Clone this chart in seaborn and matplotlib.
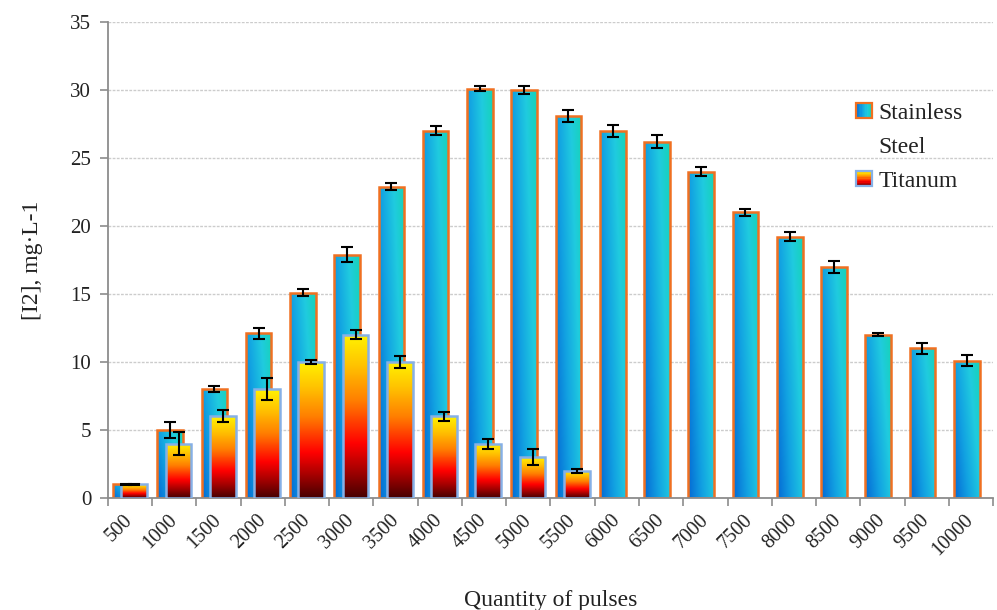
import numpy as np
import pandas as pd
import matplotlib
matplotlib.use("Agg")
import matplotlib.pyplot as plt
import seaborn as sns
from matplotlib.colors import LinearSegmentedColormap
from matplotlib.legend_handler import HandlerBase
from matplotlib.patches import Rectangle
from matplotlib.ticker import FixedLocator

# ---- data ----
pulses = ["500", "1000", "1500", "2000", "2500", "3000", "3500", "4000", "4500", "5000",
          "5500", "6000", "6500", "7000", "7500", "8000", "8500", "9000", "9500", "10000"]
steel = [1.0, 5.0, 8.0, 12.1, 15.1, 17.9, 22.9, 27.0, 30.1, 30.0,
         28.1, 27.0, 26.2, 24.0, 21.0, 19.2, 17.0, 12.0, 11.0, 10.1]
steel_err = [0.05, 0.61, 0.2, 0.43, 0.26, 0.57, 0.25, 0.34, 0.16, 0.32,
             0.43, 0.45, 0.48, 0.34, 0.25, 0.34, 0.45, 0.12, 0.38, 0.42]
titanium = [1.0, 4.0, 6.0, 8.0, 10.0, 12.0, 10.0, 6.0, 4.0, 3.0, 2.0] + [np.nan] * 9
titanium_err = [0.05, 0.85, 0.44, 0.79, 0.17, 0.34, 0.44, 0.33, 0.37, 0.6, 0.15] + [np.nan] * 9
yticks = [0, 5, 10, 15, 20, 25, 30, 35]

sns.set_theme(style="white")
plt.rcParams["font.family"] = ["Liberation Serif", "DejaVu Serif"]

fig, ax = plt.subplots(figsize=(9.97, 6.10), dpi=100)
fig.subplots_adjust(left=0.1083, right=0.996, top=0.964, bottom=0.1836)

steel_cmap = LinearSegmentedColormap.from_list(
    "steel", [(0, "#0670d6"), (0.35, "#12a2e2"), (0.7, "#20cbdf"), (1, "#16d3b8")])
ti_cmap = LinearSegmentedColormap.from_list(
    "ti", [(0, "#4a0000"), (0.18, "#b00000"), (0.33, "#ff0000"), (0.6, "#ff8000"),
           (0.82, "#ffc400"), (1, "#fff200")])

df_s = pd.DataFrame({"pulses": pulses, "value": steel})
sns.barplot(data=df_s, x="pulses", y="value", order=pulses, width=0.58,
            color="#19b5e0", edgecolor="#f07021", linewidth=1.8,
            errorbar=None, ax=ax)
steel_patches = list(ax.patches)

df_t = pd.DataFrame({"pulses": pulses, "value": titanium}).dropna()
sns.barplot(data=df_t, x="pulses", y="value", order=pulses, width=0.58,
            color="#ff8000", edgecolor="#86b0e6", linewidth=1.8,
            errorbar=None, ax=ax)
ti_patches = list(ax.patches)[len(steel_patches):]

shift = 0.095
for p in steel_patches:
    p.set_x(p.get_x() - shift)
for p in ti_patches:
    p.set_x(p.get_x() + shift)

# gradient fills
ny, nx = 64, 64
xf = np.linspace(0, 1, nx)[None, :]
yf = np.linspace(1, 0, ny)[:, None]  # row 0 is top
steel_grad = np.clip(0.7 * xf + 0.35 * yf - 0.05, 0, 1)
ti_grad = np.repeat(yf, nx, axis=1)

def fill(patches, grad, cmap, z):
    for p in patches:
        x, y, w, h = p.get_x(), p.get_y(), p.get_width(), p.get_height()
        if h <= 0:
            continue
        im = ax.imshow(grad, extent=[x, x + w, y, y + h], aspect="auto",
                       cmap=cmap, vmin=0, vmax=1, zorder=z, interpolation="bilinear")
        im.set_clip_path(p)
        p.set_facecolor("none")
        p.set_zorder(z + 0.1)

fill(steel_patches, steel_grad, steel_cmap, 2)
fill(ti_patches, ti_grad, ti_cmap, 3)

# error bars
sx = [p.get_x() + p.get_width() / 2 for p in steel_patches]
ax.errorbar(sx, steel, yerr=steel_err, fmt="none", ecolor="black",
            elinewidth=1.5, capsize=4, capthick=1.5, zorder=5)
ti_vals = [v for v in titanium if not np.isnan(v)]
ti_errs = [e for e in titanium_err if not np.isnan(e)]
tx = [p.get_x() + p.get_width() / 2 for p in ti_patches]
ax.errorbar(tx, ti_vals, yerr=ti_errs, fmt="none", ecolor="black",
            elinewidth=1.5, capsize=4, capthick=1.5, zorder=5)

# axes
ax.set_xlim(-0.5, len(pulses) - 0.5)
ax.set_ylim(0, 35)
ax.set_yticks(yticks)
ax.yaxis.grid(True, color="#cccccc", linestyle=(0, (2, 1)), linewidth=1)
ax.set_axisbelow(True)
for s in ["top", "right"]:
    ax.spines[s].set_visible(False)
for s in ["left", "bottom"]:
    ax.spines[s].set_color("#8c8c8c")
    ax.spines[s].set_linewidth(1.3)

ax.tick_params(axis="y", which="major", length=6, color="#8c8c8c", width=1.2,
               labelsize=15, labelcolor="#222222", pad=6, left=True)
ax.tick_params(axis="x", which="major", length=0, labelsize=14.5, labelcolor="#222222", pad=14)
ax.xaxis.set_minor_locator(FixedLocator(np.arange(-0.5, len(pulses), 1.0)))
ax.tick_params(axis="x", which="minor", length=6, color="#8c8c8c", width=1.2, bottom=True)
for lab in ax.get_xticklabels():
    lab.set_rotation(45)
    lab.set_rotation_mode("anchor")
    lab.set_ha("right")
    lab.set_va("center")

ax.set_xlabel("Quantity of pulses", fontsize=17, color="#222222", labelpad=22)
ax.set_ylabel("[I2], mg·L-1", fontsize=17, color="#222222", labelpad=20)


# legend with gradient swatches
class GradHandler(HandlerBase):
    def __init__(self, kind):
        super().__init__()
        self.kind = kind

    def create_artists(self, legend, orig_handle, xdescent, ydescent, width, height,
                       fontsize, trans):
        size = min(width, height)
        x0 = -xdescent + (width - size)
        y0 = -ydescent + (height - size) / 2
        if self.kind == "none":
            return [Rectangle((x0, y0), size, size, facecolor="none", edgecolor="none",
                              transform=trans)]
        arts = []
        n = 12
        for i in range(n):
            f = (i + 0.5) / n
            if self.kind == "steel":
                r = Rectangle((x0 + i * size / n, y0), size / n + 0.3, size,
                              facecolor=steel_cmap(f), edgecolor="none", transform=trans)
            else:
                r = Rectangle((x0, y0 + i * size / n), size, size / n + 0.3,
                              facecolor=ti_cmap(f), edgecolor="none", transform=trans)
            arts.append(r)
        edge = "#f07021" if self.kind == "steel" else "#86b0e6"
        arts.append(Rectangle((x0, y0), size, size, facecolor="none", edgecolor=edge,
                              linewidth=1.6, transform=trans))
        return arts

h1 = Rectangle((0, 0), 1, 1)
h0 = Rectangle((0, 0), 1, 1)
h2 = Rectangle((0, 0), 1, 1)
leg = ax.legend([h1, h0, h2], ["Stainless", "Steel", "Titanum"],
                handler_map={h1: GradHandler("steel"), h0: GradHandler("none"),
                             h2: GradHandler("ti")},
                loc="upper left", bbox_to_anchor=(0.859, 0.832), bbox_transform=fig.transFigure,
                frameon=False, fontsize=17, handlelength=0.65, handleheight=0.65,
                handletextpad=0.3, labelspacing=0.55, borderpad=0, borderaxespad=0)
for t in leg.get_texts():
    t.set_color("#222222")

fig.savefig("out.png", dpi=100)
